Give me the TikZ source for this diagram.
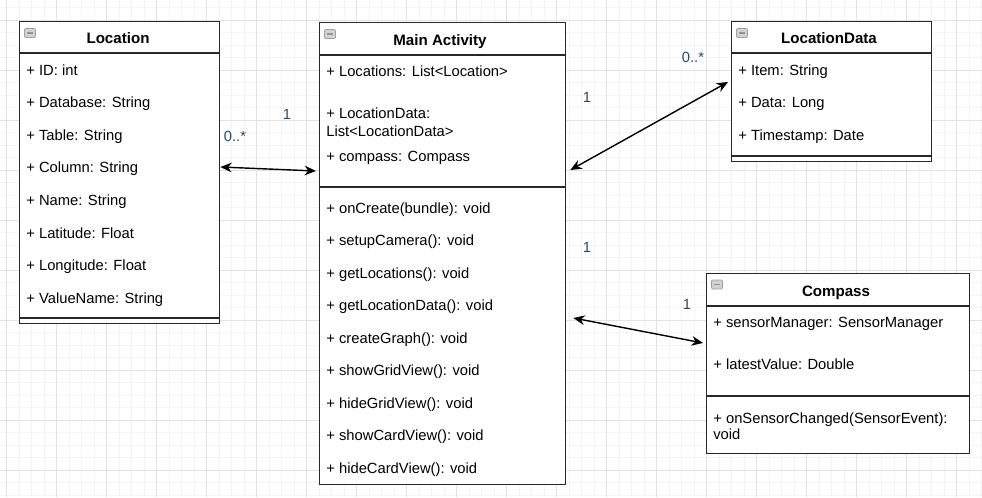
\documentclass[tikz,border=0pt]{standalone}
\usepackage{fontspec}
\setmainfont{Liberation Sans}
\usetikzlibrary{arrows.meta,calc}
\definecolor{gridfine}{RGB}{244,244,244}
\definecolor{gridmajor}{RGB}{226,226,226}
\definecolor{boxline}{RGB}{40,40,40}
\definecolor{multc}{RGB}{35,75,115}
\tikzset{
	umlbox/.style={draw=boxline, line width=0.75pt, fill=white, rectangle, anchor=north west, inner sep=0pt},
	divider/.style={draw=boxline, line width=0.75pt},
	attr/.style={anchor=base west, inner sep=0pt, font=\fontsize{8.4}{10}\selectfont},
	title/.style={anchor=base, inner sep=0pt, font=\fontsize{8.6}{10}\selectfont\bfseries},
	mult/.style={inner sep=0pt, text=multc, font=\fontsize{8.4}{10}\selectfont},
	assoc/.style={line width=0.8pt, {Stealth[length=6.5pt,width=5.5pt]}-{Stealth[length=6.5pt,width=5.5pt]}},
	foldicon/.style={draw=gray!75, fill=gray!35, rounded corners=0.6pt, line width=0.4pt}
}
\def\fold(#1,#2){\draw[foldicon] (#1,#2) rectangle ++(11,9); \draw[gray!85, line width=0.6pt] (#1+2.5,#2+4.5) -- ++(6,0);}
\begin{document}
\begin{tikzpicture}[x=0.02cm, y=-0.02cm]
			%%%%% START %%%%%
			
			\useasboundingbox (0,0) rectangle (982,497);
			\fill[white] (0,0) rectangle (982,497);
			
			% grid
			\foreach \k in {0,...,79} \draw[gridfine, line width=0.5pt] ({-5.8+12.5*\k},0) -- ({-5.8+12.5*\k},497);
			\foreach \k in {0,...,40} \draw[gridfine, line width=0.5pt] (0,{7.5+12.5*\k}) -- (982,{7.5+12.5*\k});
			\foreach \k in {0,...,19} \draw[gridmajor, line width=0.5pt] ({6.7+50*\k},0) -- ({6.7+50*\k},497);
			\foreach \k in {0,...,9} \draw[gridmajor, line width=0.5pt] (0,{20+50*\k}) -- (982,{20+50*\k});
			
			% Location
			\node[umlbox, minimum width=4cm, minimum height=6.04cm] (loc) at (19,21) {};
			\draw[divider] (loc.west |- 0,53) -- (loc.east |- 0,53);
			\draw[divider] (loc.west |- 0,318) -- (loc.east |- 0,318);
			\fold(24.5,28.5)
			\node[title] (loctitle) at (118,43.7) {Location};
			\foreach \t [count=\i from 0] in {+ ID: int, + Database: String, + Table: String, + Column: String, + Name: String, + Latitude: Float, + Longitude: Float, + ValueName: String}
				\node[attr] (loc\i) at (26,{75+32.6*\i}) {\t};
			
			% Main Activity
			\node[umlbox, minimum width=4.92cm, minimum height=9.24cm] (main) at (319,22) {};
			\draw[divider] (main.west |- 0,55) -- (main.east |- 0,55);
			\draw[divider] (main.west |- 0,187) -- (main.east |- 0,187);
			\fold(324.5,29.5)
			\node[title] (maintitle) at (440,45) {Main Activity};
			\node[attr] (mainlocs) at (326,76.7) {+ Locations: List<Location>};
			\node[attr] (maindata) at (326,118.3) {+ LocationData:};
			\node[attr] (maindatab) at (326,136.7) {List<LocationData>};
			\node[attr] (maincomp) at (326,161.7) {+ compass: Compass};
			\foreach \t [count=\i from 0] in {+ onCreate(bundle): void, + setupCamera(): void, + getLocations(): void, + getLocationData(): void, + createGraph(): void, + showGridView(): void, + hideGridView(): void, + showCardView(): void, + hideCardView(): void}
				\node[attr] (op\i) at (326,{213.3+32.5*\i}) {\t};
			
			% LocationData
			\node[umlbox, minimum width=4cm, minimum height=2.8cm] (ldata) at (731,21) {};
			\draw[divider] (ldata.west |- 0,53) -- (ldata.east |- 0,53);
			\draw[divider] (ldata.west |- 0,156) -- (ldata.east |- 0,156);
			\fold(736.5,28.5)
			\node[title] (ldatatitle) at (829,43.7) {LocationData};
			\foreach \t [count=\i from 0] in {+ Item: String, + Data: Long, + Timestamp: Date}
				\node[attr] (ld\i) at (738,{75+32.6*\i}) {\t};
			
			% Compass
			\node[umlbox, minimum width=5.26cm, minimum height=3.6cm] (comp) at (706,273) {};
			\draw[divider] (comp.west |- 0,306) -- (comp.east |- 0,306);
			\draw[divider] (comp.west |- 0,396) -- (comp.east |- 0,396);
			\fold(711.5,280)
			\node[title] (comptitle) at (836,296.7) {Compass};
			\node[attr] (compsens) at (713,327.7) {+ sensorManager: SensorManager};
			\node[attr] (complat) at (713,369.3) {+ latestValue: Double};
			\node[attr] (compop) at (713,423.3) {+ onSensorChanged(SensorEvent):};
			\node[attr] (compopb) at (713,439.3) {void};
			
			% associations
			\draw[assoc] (loc.east |- 0,167) -- ([xshift=-1.7pt]main.west |- 0,171);
			\draw[assoc] ([xshift=2.3pt]main.east |- 0,170) -- ([xshift=-1.7pt]ldata.west |- 0,82);
			\draw[assoc] ([xshift=4pt]main.east |- 0,318) -- ([xshift=-1.7pt]comp.west |- 0,343);
			
			\node[mult] (m1) at (287,114) {1};
			\node[mult] (m2) at (235,136) {0..*};
			\node[mult] (m3) at (587,97) {1};
			\node[mult] (m4) at (693,57) {0..*};
			\node[mult] (m5) at (587,247) {1};
			\node[mult] (m6) at (687,304) {1};
			
			%%%%% END %%%%%
		\end{tikzpicture}
\end{document}
